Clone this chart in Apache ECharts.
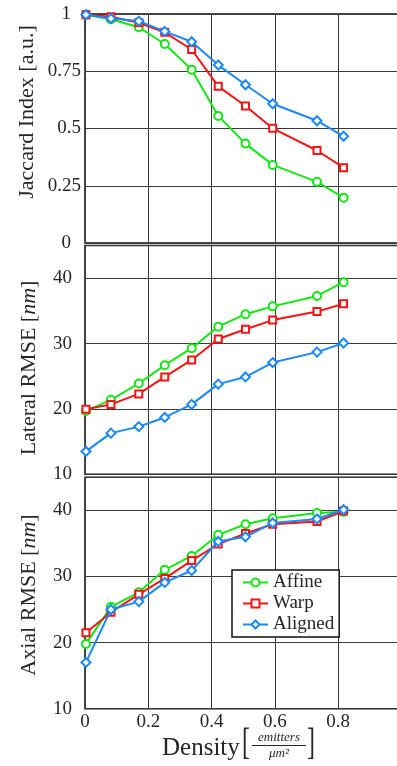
<!DOCTYPE html>
<html>
<head>
<meta charset="utf-8">
<script src="https://cdn.jsdelivr.net/npm/echarts@6/dist/echarts.min.js"></script>
<style>html,body{margin:0;padding:0;background:#fff}#c{width:397px;height:766px}</style>
</head>
<body>
<div id="c"></div>
<script>
const density = [0.003, 0.082, 0.17, 0.252, 0.337, 0.421, 0.507, 0.593, 0.733, 0.817];
const seriesNames = ['Affine', 'Warp', 'Aligned'];
const jaccardAffine  = [0.997, 0.977, 0.942, 0.869, 0.757, 0.555, 0.434, 0.341, 0.267, 0.198];
const jaccardWarp    = [0.997, 0.988, 0.962, 0.920, 0.845, 0.684, 0.598, 0.501, 0.404, 0.329];
const jaccardAligned = [0.997, 0.980, 0.969, 0.924, 0.879, 0.777, 0.691, 0.608, 0.534, 0.466];
const lateralAffine  = [19.7, 21.4, 23.9, 26.7, 29.3, 32.6, 34.5, 35.7, 37.3, 39.4];
const lateralWarp    = [19.95, 20.7, 22.3, 24.9, 27.5, 30.7, 32.2, 33.6, 34.9, 36.1];
const lateralAligned = [13.5, 16.3, 17.3, 18.7, 20.7, 23.8, 24.9, 27.1, 28.7, 30.1];
const axialAffine  = [19.8, 25.4, 27.6, 31.0, 33.1, 36.3, 37.9, 38.8, 39.6, 39.8];
const axialWarp    = [21.5, 24.6, 27.3, 29.7, 32.4, 34.9, 36.5, 37.9, 38.3, 39.9];
const axialAligned = [17.0, 25.0, 26.2, 29.1, 30.9, 35.3, 36.0, 38.1, 38.7, 40.1];
const xTicks = [0, 0.2, 0.4, 0.6, 0.8];

const colors = ['#14e614', '#f51414', '#1a88ff'];
const symbols = ['emptyCircle', 'emptyRect', 'emptyDiamond'];
const symbolSizes = [8, 7, 9];
const FONT = 'Liberation Serif';
const chart = echarts.init(document.getElementById('c'));

const grids = [
  {left: 85, top: 14, width: 316.5, height: 229},
  {left: 85, top: 245.6, width: 316.5, height: 228.7},
  {left: 85, top: 477.3, width: 316.5, height: 231.4}
].map(g => Object.assign(g, {show: true, borderColor: '#111', borderWidth: 1.5, backgroundColor: 'transparent',
  containLabel: false, outerBoundsMode: 'none'}));

const splitLine = {show: true, lineStyle: {color: '#3a3a3a', width: 1}};
const xAxes = [0, 1, 2].map(i => ({
  type: 'value', gridIndex: i, min: 0, max: 1, interval: 0.2,
  axisLine: {show: false}, axisTick: {show: false}, splitLine,
  axisLabel: {show: i === 2, fontFamily: FONT, fontSize: 19, color: '#262626', margin: 4,
    formatter: v => (xTicks.indexOf(Math.round(v * 10) / 10) >= 0 ? String(Math.round(v * 10) / 10) : '')}
}));
const yAxes = [
  {type: 'value', gridIndex: 0, min: 0, max: 1, interval: 0.25,
   axisLine: {show: false}, axisTick: {show: false}, splitLine,
   axisLabel: {fontFamily: FONT, fontSize: 19, color: '#262626', margin: 4,
     formatter: v => (v === 0 || v === 1) ? '{p|' + v + '}' : String(v),
     rich: {p: {fontFamily: FONT, fontSize: 19, color: '#262626', padding: [0, 10, 0, 0]}}}},
  {type: 'value', gridIndex: 1, min: 10, max: 45, interval: 10,
   axisLine: {show: false}, axisTick: {show: false}, splitLine,
   axisLabel: {fontFamily: FONT, fontSize: 19, color: '#262626', margin: 13,
     formatter: v => v === 45 ? '' : String(v)}},
  {type: 'value', gridIndex: 2, min: 10, max: 45, interval: 10,
   axisLine: {show: false}, axisTick: {show: false}, splitLine,
   axisLabel: {fontFamily: FONT, fontSize: 19, color: '#262626', margin: 13,
     formatter: v => v === 45 ? '' : String(v)}}
];

const panels = [
  [jaccardAffine, jaccardWarp, jaccardAligned],
  [lateralAffine, lateralWarp, lateralAligned],
  [axialAffine, axialWarp, axialAligned]
];
const series = [];
panels.forEach((arrs, p) => {
  arrs.forEach((vals, s) => {
    series.push({
      name: seriesNames[s], type: 'line', xAxisIndex: p, yAxisIndex: p,
      data: density.map((x, k) => [x, vals[k]]),
      symbol: symbols[s], symbolSize: symbolSizes[s], showSymbol: true,
      lineStyle: {color: colors[s], width: 2},
      itemStyle: {color: colors[s], borderColor: colors[s], borderWidth: 1.6},
      emphasis: {disabled: true}, animation: false, z: 3 + s
    });
  });
});

const ylab = (txt, x, y) => ({
  type: 'text', x, y, rotation: Math.PI / 2,
  style: {text: txt, fontFamily: FONT, fontSize: 22, fill: '#262626', align: 'center', verticalAlign: 'middle',
    rich: {n: {fontFamily: FONT, fontSize: 22, fill: '#262626'}, i: {fontFamily: FONT, fontSize: 22, fontStyle: 'italic', fill: '#262626'}}}
});

chart.setOption({
  animation: false,
  grid: grids,
  xAxis: xAxes,
  yAxis: yAxes,
  series,
  legend: {
    data: seriesNames,
    left: 232, top: 570, orient: 'vertical',
    itemWidth: 25, itemHeight: 10, itemGap: 2,
    padding: [3, 5, 3, 10],
    backgroundColor: '#fff', borderColor: '#111', borderWidth: 1.5, borderRadius: 0,
    textStyle: {fontFamily: FONT, fontSize: 19, color: '#262626', lineHeight: 19},
    selectedMode: false
  },
  graphic: [
    ylab('Jaccard Index [a.u.]', 27, 112),
    ylab('{n|Lateral RMSE }{n|[}{i|nm}{n|]}', 29, 368),
    ylab('{n|Axial RMSE }{n|[}{i|nm}{n|]}', 29, 595),
    {type: 'text', x: 162, y: 748, style: {text: 'Density', fontFamily: FONT, fontSize: 25, fill: '#262626', verticalAlign: 'middle'}},
    {type: 'text', x: 246, y: 744, scaleY: 1.6, style: {text: '[', fontFamily: FONT, fontSize: 24, fill: '#262626', align: 'center', verticalAlign: 'middle'}},
    {type: 'text', x: 311, y: 744, scaleY: 1.6, style: {text: ']', fontFamily: FONT, fontSize: 24, fill: '#262626', align: 'center', verticalAlign: 'middle'}},
    {type: 'text', x: 279, y: 738, style: {text: 'emitters', fontFamily: FONT, fontSize: 13, fontStyle: 'italic', fill: '#262626', align: 'center', verticalAlign: 'middle'}},
    {type: 'line', shape: {x1: 252, y1: 745.5, x2: 306, y2: 745.5}, style: {stroke: '#262626', lineWidth: 1}},
    {type: 'text', x: 279, y: 754, style: {text: 'μm²', fontFamily: FONT, fontSize: 13, fontStyle: 'italic', fill: '#262626', align: 'center', verticalAlign: 'middle'}}
  ]
});
</script>
</body>
</html>
